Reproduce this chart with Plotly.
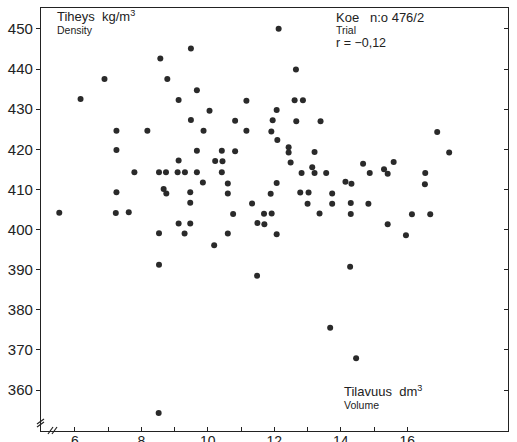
import plotly.graph_objects as go

# Volume (dm3) and density (kg/m3)
volume = [5.53, 6.17, 6.89, 7.25, 7.25, 7.25, 7.23, 7.62, 7.79, 8.18,
          8.53, 8.53, 8.53, 8.57, 8.52, 8.67, 8.75, 8.74, 8.78, 9.12,
          9.09, 9.12, 9.12, 9.31, 9.30, 9.49, 9.49, 9.47, 9.47, 9.47,
          9.67, 9.67, 9.67, 9.85, 9.87, 10.05, 10.19, 10.22, 10.42, 10.44,
          10.42, 10.60, 10.60, 10.60, 10.76, 10.82, 10.82, 11.16, 11.16, 11.33,
          11.49, 11.48, 11.69, 11.70, 11.89, 11.92, 11.91, 11.95, 12.07, 12.07,
          12.07, 12.09, 12.13, 12.43, 12.43, 12.49, 12.61, 12.65, 12.66, 12.78,
          12.82, 12.86, 13.00, 13.03, 13.14, 13.21, 13.21, 13.36, 13.39, 13.56,
          13.68, 13.74, 13.74, 14.14, 14.30, 14.32, 14.30, 14.28, 14.46, 14.67,
          14.83, 14.87, 15.30, 15.41, 15.41, 15.59, 15.96, 16.14, 16.53, 16.54,
          16.69, 16.90, 17.26]
density = [404.2, 432.5, 437.5, 424.6, 419.8, 409.3, 404.1, 404.3, 414.3, 424.6,
           399.1, 391.2, 414.3, 442.6, 354.3, 410.1, 409.0, 414.3, 437.5, 417.2,
           414.3, 432.3, 401.5, 414.3, 399.0, 445.1, 427.3, 409.3, 406.7, 401.5,
           419.6, 414.3, 434.7, 411.7, 424.6, 429.6, 396.1, 417.1, 419.6, 417.0,
           414.3, 411.5, 409.0, 399.0, 403.9, 427.1, 419.5, 432.1, 424.6, 406.5,
           401.6, 388.5, 403.95, 401.3, 408.9, 404.0, 424.4, 427.2, 429.8, 411.6,
           398.8, 422.3, 450.0, 420.5, 419.2, 416.7, 432.2, 439.9, 427.0, 409.2,
           414.1, 432.2, 406.4, 409.2, 415.5, 419.3, 414.1, 404.0, 427.0, 414.1,
           375.5, 409.0, 406.4, 411.9, 406.6, 411.4, 403.9, 390.7, 367.9, 416.4,
           406.4, 414.1, 415.0, 413.9, 401.3, 416.8, 398.6, 403.8, 411.3, 414.1,
           403.8, 424.3, 419.2]

x_major = [6, 8, 10, 12, 14, 16]
x_minor = [7, 9, 11, 13, 15]
y_ticks = [360, 370, 380, 390, 400, 410, 420, 430, 440, 450]

INK = "#222222"
FONT = "Liberation Sans, Arial, Helvetica, sans-serif"
NB = "\u00a0"

fig = go.Figure()
fig.add_trace(go.Scatter(
    x=volume, y=density, mode="markers",
    marker=dict(size=6, color="#2a2a2a", line=dict(width=0)),
    showlegend=False, hoverinfo="x+y"))
# invisible trace to carry the right-hand axis
fig.add_trace(go.Scatter(x=[volume[0]], y=[density[0]], yaxis="y2",
                         mode="markers", marker=dict(opacity=0),
                         showlegend=False, hoverinfo="skip"))

fig.update_layout(
    width=517, height=442,
    margin=dict(l=41, r=9, t=8, b=11),
    paper_bgcolor="white", plot_bgcolor="white",
    font=dict(family=FONT, color=INK),
    xaxis=dict(range=[4.98, 19.03], tickvals=x_major, ticks="inside",
               ticklen=4, tickwidth=1, tickcolor=INK,
               minor=dict(tickvals=x_minor, ticks="inside", ticklen=4,
                          tickwidth=1, tickcolor=INK),
               showline=True, linecolor=INK, linewidth=1.3, mirror=True,
               showgrid=False, zeroline=False, automargin=False,
               tickfont=dict(size=14, color=INK), ticklabelstandoff=-3),
    yaxis=dict(range=[349.8, 455.2], tickvals=y_ticks, ticks="outside",
               ticklen=4, tickwidth=1, tickcolor=INK,
               showline=True, linecolor=INK, linewidth=1.3,
               showgrid=False, zeroline=False, automargin=False,
               tickfont=dict(size=15, color=INK)),
    yaxis2=dict(range=[349.8, 455.2], overlaying="y", side="right",
                tickvals=y_ticks, ticks="inside", ticklen=4, tickwidth=1,
                tickcolor=INK, showticklabels=False, showline=True,
                linecolor=INK, linewidth=1.3, showgrid=False,
                zeroline=False, automargin=False),
)

def px_x(p):
    return (p - 41) / 467.0

def px_y(p):
    return (431 - p) / 423.0

notes = [
    ("Tiheys" + NB * 2 + "kg/m<sup>3</sup>", 55, 16, 13),
    ("Density", 55, 30, 10.5),
    ("Koe" + NB * 3 + "n:o 476/2", 334, 17, 13),
    ("Trial", 334, 30, 10.5),
    ("r = \u22120,12", 334, 43, 12.5),
    ("Tilavuus" + NB * 2 + "dm<sup>3</sup>", 342, 391, 13),
    ("Volume", 342, 405, 10.5),
]
for text, px, py, size in notes:
    fig.add_annotation(text=text, xref="paper", yref="paper",
                       x=px_x(px), y=px_y(py), xanchor="left",
                       yanchor="middle", showarrow=False,
                       font=dict(size=size, color=INK, family=FONT))

# axis break marks
breaks = [
    (37, 424, 44, 419), (37, 427, 44, 422),  # y-axis
    (48, 434, 53, 427), (52, 434, 57, 427),  # x-axis
]
for x0, y0, x1, y1 in breaks:
    fig.add_shape(type="line", xref="paper", yref="paper",
                  x0=px_x(x0), y0=px_y(y0), x1=px_x(x1), y1=px_y(y1),
                  line=dict(color=INK, width=1.2))

fig.write_html("out.html")
